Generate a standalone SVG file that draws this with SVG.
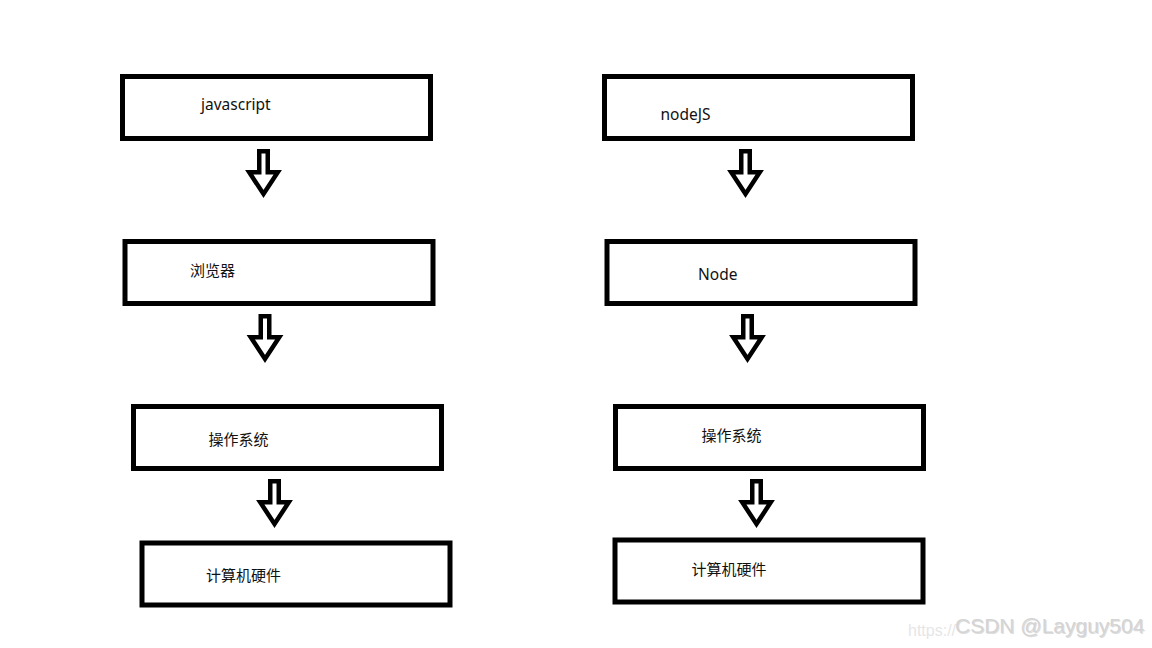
<svg xmlns="http://www.w3.org/2000/svg" xmlns:xlink="http://www.w3.org/1999/xlink" width="1152" height="648" viewBox="0 0 1152 648">
<style>
.box{fill:#fff;stroke:#000;stroke-width:5}
.lbl{font-family:"Noto Sans","Noto Sans CJK SC",sans-serif;font-size:15px;fill:#111}
.lat{font-size:15.5px}
.arr{fill:#fff;stroke:#000;stroke-width:4.5;stroke-linejoin:miter;stroke-miterlimit:10}
.wm{font-family:"Liberation Sans",Arial,sans-serif}
</style>
<defs>
<path id="arrow" d="M -4.25 2.25 H 4.25 V 23.25 H 14.25 L 0 45 L -14.25 23.25 H -4.25 Z"/>
</defs>
<rect width="1152" height="648" fill="#fff"/>
<g id="connectors">
<use xlink:href="#arrow" class="arr" transform="translate(263.5,149)"/>
<use xlink:href="#arrow" class="arr" transform="translate(265,314)"/>
<use xlink:href="#arrow" class="arr" transform="translate(274.5,479)"/>
<use xlink:href="#arrow" class="arr" transform="translate(745.5,149)"/>
<use xlink:href="#arrow" class="arr" transform="translate(747.5,314)"/>
<use xlink:href="#arrow" class="arr" transform="translate(756.5,479)"/>
</g>
<g id="js">
<rect class="box" x="122.5" y="76.5" width="308" height="62"/>
<text class="lbl lat" x="201" y="110">javascript</text>
</g>
<g id="browser">
<rect class="box" x="125" y="241.5" width="308" height="62"/>
<text class="lbl" x="190" y="275.5">浏览器</text>
</g>
<g id="os-left">
<rect class="box" x="133.5" y="406.5" width="308" height="62"/>
<text class="lbl" x="208.5" y="444.5">操作系统</text>
</g>
<g id="hw-left">
<rect class="box" x="142" y="543" width="308" height="62"/>
<text class="lbl" x="206" y="581">计算机硬件</text>
</g>
<g id="nodejs">
<rect class="box" x="604.5" y="76.5" width="308" height="62"/>
<text class="lbl lat" x="660.5" y="120">nodeJS</text>
</g>
<g id="node">
<rect class="box" x="607" y="241.5" width="308" height="62"/>
<text class="lbl lat" x="698" y="279.5">Node</text>
</g>
<g id="os-right">
<rect class="box" x="615.5" y="406.5" width="308" height="62"/>
<text class="lbl" x="701.5" y="441">操作系统</text>
</g>
<g id="hw-right">
<rect class="box" x="615" y="540" width="308" height="62"/>
<text class="lbl" x="691.5" y="575">计算机硬件</text>
</g>
<g id="watermark">
<text class="wm" x="908" y="636" font-size="16" fill="#e6e6e6">https://</text>
<text class="wm" x="956" y="634" font-size="21" fill="#bdbdbd" opacity="0.5">CSDN @Layguy504</text>
<text class="wm" x="955" y="633" font-size="21" fill="#d4d4d4">CSDN @Layguy504</text>
</g>
</svg>
